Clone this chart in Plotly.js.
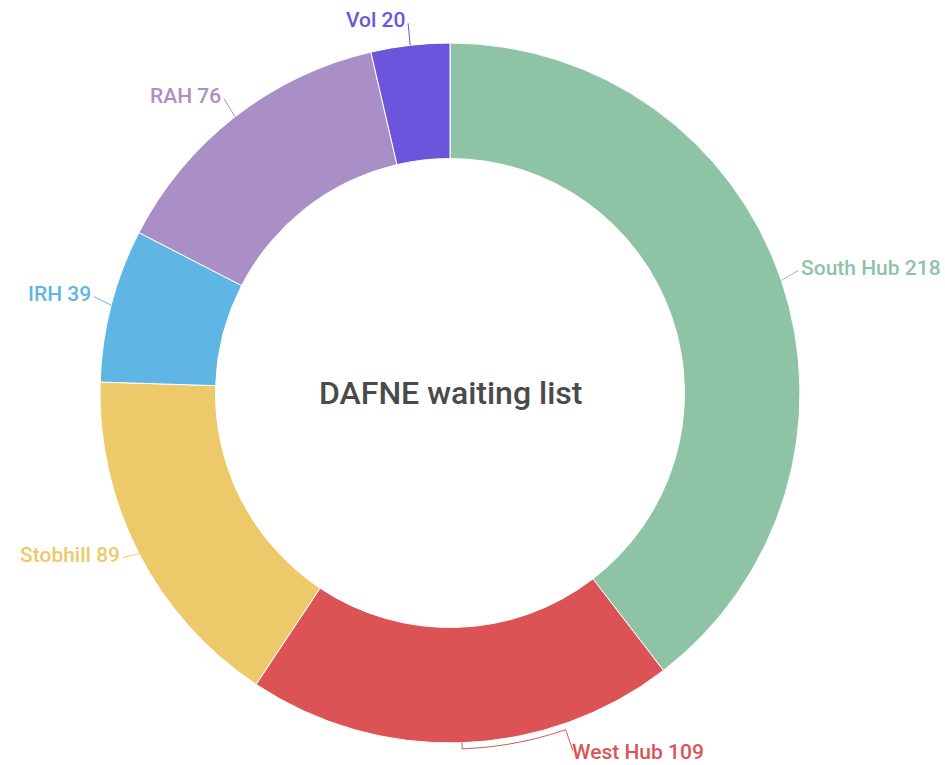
<!DOCTYPE html>
<html>
<head>
<meta charset="utf-8">
<script src="https://cdn.plot.ly/plotly-3.0.1.min.js"></script>
<style>html,body{margin:0;padding:0;background:#fff;}#chart{width:945px;height:765px;}</style>
</head>
<body>
<div id="chart"></div>
<script>
// ---- data ----
const categories = ["South Hub", "West Hub", "Stobhill", "IRH", "RAH", "Vol"];
const values = [218, 109, 89, 39, 76, 20];
const centerTitle = "DAFNE waiting list";

// ---- style ----
const colors = ["#8fc3a6", "#dc5356", "#eec96a", "#5fb6e4", "#aa8fc6", "#6c55dc"];
const labelAngleShift = {"West Hub": -17}; // degrees, moves a crowded label along the ring
const W = 945, H = 765;
const cx = 450, cy = 393, R = 350;

const total = values.reduce((a, b) => a + b, 0);
const P = (x, y) => [x / W, 1 - y / H];
const dirOf = t => [Math.sin(t), -Math.cos(t)];

const shapes = [];
const annotations = [{
  text: centerTitle, x: P(cx, cy)[0], y: P(cx, cy)[1], xref: "paper", yref: "paper",
  showarrow: false, xanchor: "center", yanchor: "middle",
  font: {family: "Roboto", size: 32, weight: 500, color: "#4a4a4a"}
}];

let cum = 0;
values.forEach((v, i) => {
  const th = (cum + v / 2) / total * 2 * Math.PI;
  cum += v;
  const d = dirOf(th);
  const E = [cx + R * d[0], cy + R * d[1]];
  let pts = [E], L, xanchor;
  const shift = labelAngleShift[categories[i]];
  if (shift) {
    const th2 = th + shift * Math.PI / 180;
    const n = 20;
    for (let k = 0; k <= n; k++) {
      const t = th + (th2 - th) * k / n;
      const dd = dirOf(t);
      pts.push([cx + (R + 6) * dd[0], cy + (R + 6) * dd[1]]);
    }
    const d2 = dirOf(th2);
    const end = [cx + (R + 28) * d2[0], cy + (R + 28) * d2[1]];
    pts.push(end);
    L = [end[0] - 3, end[1] + 2];
    xanchor = d2[0] >= 0 ? "left" : "right";
  } else {
    const B = [cx + (R + 18) * d[0], cy + (R + 18) * d[1] - 4];
    pts.push(B);
    const side = d[0] >= 0 ? 1 : -1;
    L = [B[0] + side * 1, B[1] - 3];
    xanchor = side > 0 ? "left" : "right";
  }
  const path = pts.map((p, k) => {
    const q = P(p[0], p[1]);
    return (k ? "L" : "M") + q[0].toFixed(5) + "," + q[1].toFixed(5);
  }).join(" ");
  shapes.push({type: "path", xref: "paper", yref: "paper", path: path,
    line: {color: colors[i], width: 1}});
  const lp = P(L[0], L[1]);
  annotations.push({
    text: categories[i] + " " + values[i], x: lp[0], y: lp[1], xref: "paper", yref: "paper",
    showarrow: false, xanchor: xanchor, yanchor: "middle",
    font: {family: "Roboto", size: 21, weight: 500, color: colors[i]}
  });
});

const trace = {
  type: "pie",
  labels: categories,
  values: values,
  hole: 0.67,
  sort: false,
  direction: "clockwise",
  rotation: 0,
  textinfo: "none",
  marker: {colors: colors, line: {color: "#ffffff", width: 1}},
  domain: {x: [(cx - R) / W, (cx + R) / W], y: [1 - (cy + R) / H, 1 - (cy - R) / H]},
  showlegend: false
};

const layout = {
  width: W, height: H,
  margin: {l: 0, r: 0, t: 0, b: 0},
  paper_bgcolor: "#ffffff",
  showlegend: false,
  shapes: shapes,
  annotations: annotations,
  font: {family: "Roboto"}
};

Plotly.newPlot("chart", [trace], layout, {displayModeBar: false, staticPlot: true});
</script>
</body>
</html>
